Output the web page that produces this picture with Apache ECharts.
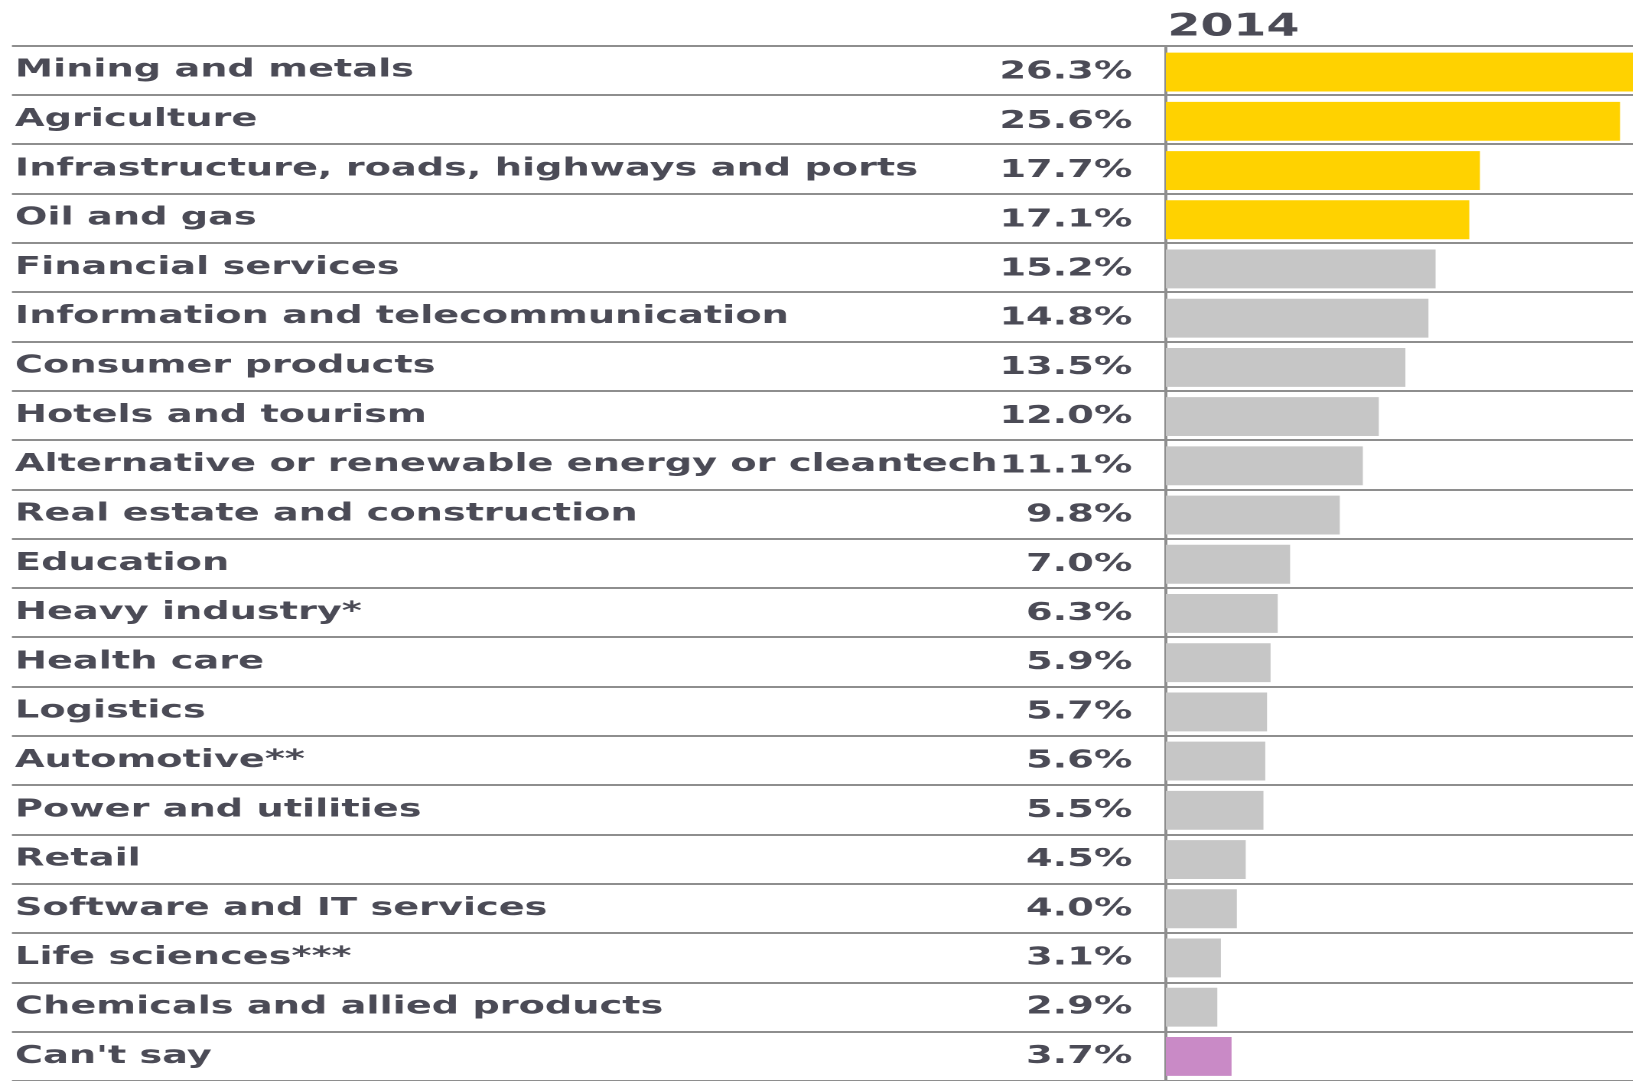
<!DOCTYPE html>
<html>
<head>
<meta charset="utf-8">
<script src="https://cdn.jsdelivr.net/npm/echarts@6/dist/echarts.min.js"></script>
<style>
  html, body { margin: 0; padding: 0; background: #fff; overflow: hidden; }
  /* the source graphic is stretched horizontally, so the chart is drawn narrow and widened */
  #chart { width: 1067.3px; height: 1081px; transform: scaleX(1.53); transform-origin: 0 0; }
</style>
</head>
<body>
<div id="chart"></div>
<script>
const categories = [
  'Mining and metals',
  'Agriculture',
  'Infrastructure, roads, highways and ports',
  'Oil and gas',
  'Financial services',
  'Information and telecommunication',
  'Consumer products',
  'Hotels and tourism',
  'Alternative or renewable energy or cleantech',
  'Real estate and construction',
  'Education',
  'Heavy industry*',
  'Health care',
  'Logistics',
  'Automotive**',
  'Power and utilities',
  'Retail',
  'Software and IT services',
  'Life sciences***',
  'Chemicals and allied products',
  "Can't say"
]
const values2014 = [26.3, 25.6, 17.7, 17.1, 15.2, 14.8, 13.5, 12.0, 11.1, 9.8, 7.0, 6.3, 5.9, 5.7, 5.6, 5.5, 4.5, 4.0, 3.1, 2.9, 3.7]
const yearLabel = '2014'

const YELLOW = '#ffd200'
const GREY = '#c6c6c6'
const PURPLE = '#c98ac6'
const TEXT = '#4b4b56'
const RULE = '#8e8e8e'
const FONT = 'DejaVu Sans'

// top 4 sectors highlighted, "Can't say" in purple
const barColor = (i) => {
  if (i < 4) return YELLOW
  if (i === categories.length - 1) return PURPLE
  return GREY
}

const ROW = 49.47
const TOP = 45.5
const plotHeight = ROW * categories.length

const chart = echarts.init(document.getElementById('chart'), null, { devicePixelRatio: 2 })

const option = {
  animation: false,
  backgroundColor: '#fff',
  title: {
    text: yearLabel,
    left: 763,
    top: 12,
    padding: 0,
    textStyle: { fontFamily: FONT, fontSize: 31, fontWeight: 'bold', color: TEXT }
  },
  grid: [
    { left: 7.8, right: 0, top: TOP, height: plotHeight },
    { left: 762, right: 0, top: TOP + 2, height: plotHeight }
  ],
  xAxis: [
    { gridIndex: 0, type: 'value', min: 0, max: 1, show: false },
    { gridIndex: 1, type: 'value', min: 0, max: 26.3, show: false }
  ],
  yAxis: [
    {
      gridIndex: 0,
      type: 'category',
      inverse: true,
      data: categories,
      axisLine: { show: false },
      axisTick: { show: false },
      axisLabel: {
        inside: true,
        margin: 2,
        padding: [5, 0, 0, 0],
        fontFamily: FONT,
        fontSize: 25,
        fontWeight: 'bold',
        color: TEXT
      },
      splitLine: { show: true, lineStyle: { color: RULE, width: 2 } }
    },
    {
      gridIndex: 1,
      type: 'category',
      inverse: true,
      data: categories,
      axisLine: { show: true, lineStyle: { color: RULE, width: 2 } },
      axisTick: { show: false },
      axisLabel: { show: false },
      splitLine: { show: false }
    }
  ],
  series: [{
    name: yearLabel,
    type: 'bar',
    xAxisIndex: 1,
    yAxisIndex: 1,
    barWidth: '79%',
    data: values2014.map((v, i) => ({
      value: v,
      itemStyle: { color: barColor(i) }
    })),
    label: {
      show: true,
      position: 'left',
      distance: 22,
      fontFamily: FONT,
      fontSize: 25,
      fontWeight: 'bold',
      color: TEXT,
      formatter: (p) => p.value.toFixed(1) + '%'
    }
  }]
}

chart.setOption(option)
</script>
</body>
</html>
